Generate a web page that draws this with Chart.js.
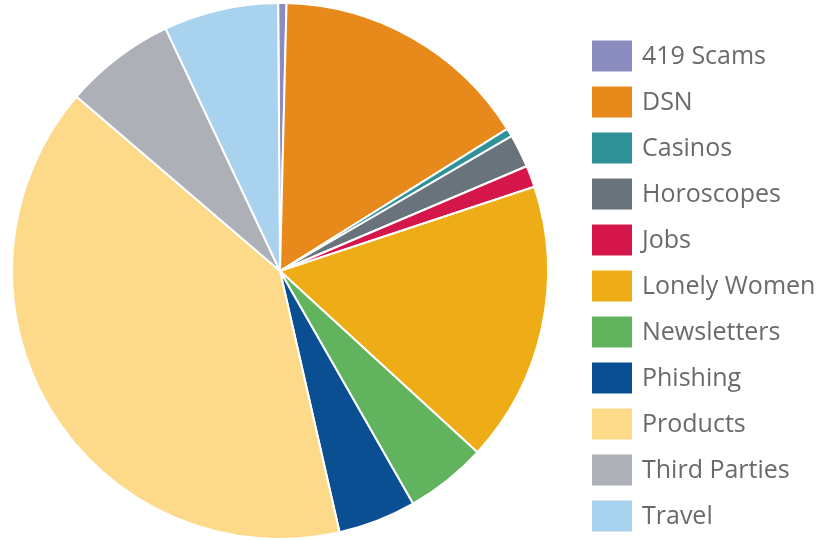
<!DOCTYPE html>
<html>
<head>
<meta charset="utf-8">
<script src="https://cdn.jsdelivr.net/npm/chart.js@4/dist/chart.umd.min.js"></script>
<style>
  html, body { margin: 0; padding: 0; background: #fff; }
  #wrap { width: 820px; height: 540px; position: relative; }
</style>
</head>
<body>
<div id="wrap"><canvas id="c" width="820" height="540"></canvas></div>
<script>
const categories = ["419 Scams", "DSN", "Casinos", "Horoscopes", "Jobs", "Lonely Women", "Newsletters", "Phishing", "Products", "Third Parties", "Travel"];
const shares = [0.5, 15.7, 0.5, 2.0, 1.3, 16.9, 4.9, 4.7, 39.8, 6.7, 6.9];
const colors = ["#8a8cc0", "#e8891c", "#2f9298", "#68737c", "#d5164b", "#eead16", "#62b35d", "#0a4f92", "#fdd98a", "#adb0b6", "#a9d2ef"];

const legendPlugin = {
  id: 'sideLegend',
  afterDraw(chart) {
    const ctx = chart.ctx;
    const labels = chart.data.labels;
    const bg = chart.data.datasets[0].backgroundColor;
    ctx.save();
    ctx.font = '25px "Open Sans", sans-serif';
    ctx.textBaseline = 'middle';
    ctx.textAlign = 'left';
    labels.forEach((lab, i) => {
      const cy = 56 + i * 46;
      ctx.fillStyle = bg[i];
      ctx.fillRect(592, cy - 15.5, 40, 31);
      ctx.fillStyle = '#6a6a6a';
      ctx.fillText(lab, 642, cy + 1);
    });
    ctx.restore();
  }
};

new Chart(document.getElementById('c'), {
  type: 'pie',
  data: {
    labels: categories,
    datasets: [{
      data: shares,
      backgroundColor: colors,
      borderColor: '#ffffff',
      borderWidth: 2
    }]
  },
  options: {
    responsive: false,
    animation: false,
    rotation: -0.4,
    layout: { padding: { left: 11, right: 271, top: 2, bottom: 0 } },
    plugins: {
      legend: { display: false },
      tooltip: { enabled: false }
    }
  },
  plugins: [legendPlugin]
});
</script>
</body>
</html>
